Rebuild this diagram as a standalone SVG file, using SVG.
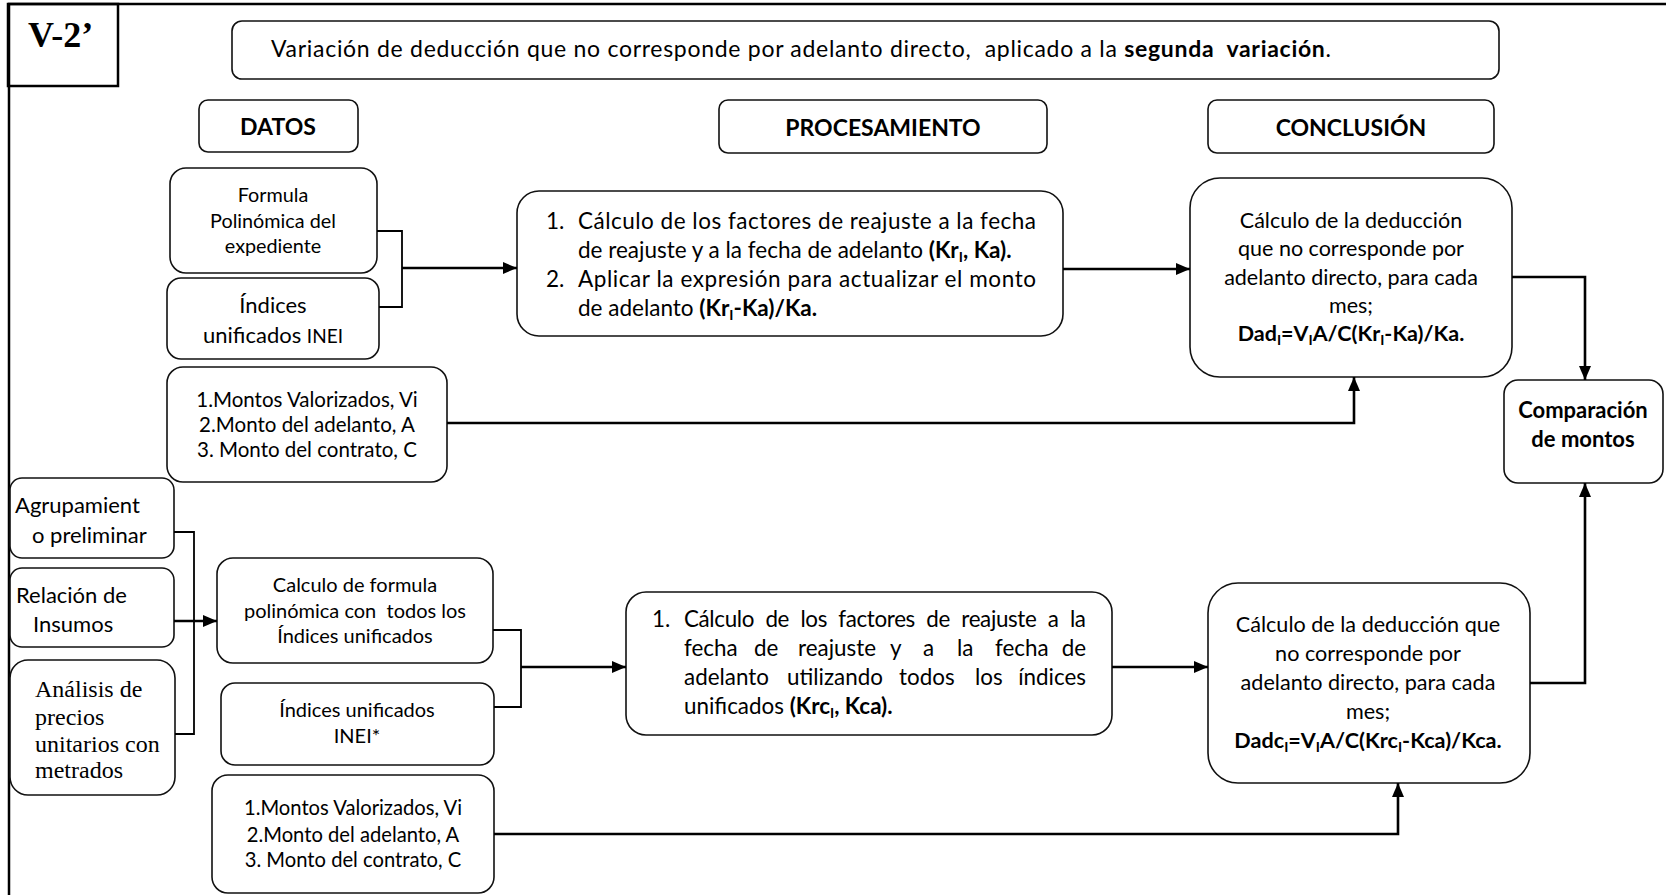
<svg xmlns="http://www.w3.org/2000/svg" width="1666" height="895" viewBox="0 0 1666 895">
<style>
.box{fill:#fff;stroke:#111;stroke-width:1.6}
.t{font-family:Lato,"Open Sans","Liberation Sans",sans-serif;fill:#000;white-space:pre}
.c{text-anchor:middle}
.e{text-anchor:end}
.b{font-weight:bold}
.s{font-family:"Liberation Serif","Times New Roman",serif;fill:#000}
.ln{fill:none;stroke:#000;stroke-width:1.8}
.ar{fill:none;stroke:#000;stroke-width:2.6;marker-end:url(#ah)}
</style>
<defs>
<marker id="ah" viewBox="0 0 14 12" refX="14" refY="6" markerWidth="14" markerHeight="12" markerUnits="userSpaceOnUse" orient="auto">
<path d="M0,0 L14,6 L0,12 z" fill="#000"/>
</marker>
</defs>
<rect width="1666" height="895" fill="#fff"/>
<g id="frame">
<path d="M8,4 H1666 M9,4 V895" fill="none" stroke="#000" stroke-width="2.5"/>
<rect x="8" y="4" width="110" height="82" fill="none" stroke="#000" stroke-width="2.5"/>
<text x="28" y="47" class="s b" font-size="36">V-2’</text>
</g>
<g id="title">
<rect class="box" x="232" y="21" width="1267" height="58" rx="10"/>
<text x="271" y="57" class="t" font-size="23" textLength="1060">Variación de deducción que no corresponde por adelanto directo,  aplicado a la <tspan class="b">segunda  variación</tspan>.</text>
</g>
<g id="datos">
<rect class="box" x="199" y="100" width="159" height="52" rx="9"/>
<text x="278" y="135" class="t c b" font-size="23">DATOS</text>
</g>
<g id="procesamiento">
<rect class="box" x="719" y="100" width="328" height="53" rx="9"/>
<text x="883" y="136" class="t c b" font-size="23">PROCESAMIENTO</text>
</g>
<g id="conclusion">
<rect class="box" x="1208" y="100" width="286" height="53" rx="9"/>
<text x="1351" y="136" class="t c b" font-size="23">CONCLUSIÓN</text>
</g>
<g id="formula">
<rect class="box" x="170" y="168" width="207" height="105" rx="16"/>
<text class="t c" font-size="19.8"><tspan x="273" y="202">Formula</tspan><tspan x="273" y="228">Polinómica del</tspan><tspan x="273" y="253">expediente</tspan></text>
</g>
<g id="indices1">
<rect class="box" x="167" y="278" width="212" height="81" rx="14"/>
<text class="t c" font-size="22"><tspan x="273" y="313">Índices</tspan><tspan x="273" y="343">unificados <tspan font-size="19">INEI</tspan></tspan></text>
</g>
<g id="montos1">
<rect class="box" x="167" y="367" width="280" height="115" rx="16"/>
<text class="t c" font-size="20.5"><tspan x="307" y="407">1.Montos Valorizados, Vi</tspan><tspan x="307" y="432">2.Monto del adelanto, A</tspan><tspan x="307" y="457">3. Monto del contrato, C</tspan></text>
</g>
<g id="proceso1">
<rect class="box" x="517" y="191" width="546" height="145" rx="22"/>
<text class="t" font-size="22.5"><tspan x="546" y="229">1.</tspan><tspan x="578" y="229" textLength="458">Cálculo de los factores de reajuste a la fecha</tspan></text>
<text class="t" font-size="22.5" x="578" y="258">de reajuste y a la fecha de adelanto <tspan class="b">(Kr<tspan dy="4" font-size="14">I</tspan><tspan dy="-4">, Ka).</tspan></tspan></text>
<text class="t" font-size="22.5"><tspan x="546" y="287">2.</tspan><tspan x="578" y="287" textLength="458">Aplicar la expresión para actualizar el monto</tspan></text>
<text class="t" font-size="22.5" x="578" y="316">de adelanto <tspan class="b">(Kr<tspan dy="4" font-size="14">I</tspan><tspan dy="-4">-Ka)/Ka.</tspan></tspan></text>
</g>
<g id="conclusion1">
<rect class="box" x="1190" y="178" width="322" height="199" rx="30"/>
<text class="t c" font-size="21.5"><tspan x="1351" y="228">Cálculo de la deducción</tspan><tspan x="1351" y="256">que no corresponde por</tspan><tspan x="1351" y="285">adelanto directo, para cada</tspan><tspan x="1351" y="313">mes;</tspan></text>
<text class="t c b" font-size="21.5" x="1351" y="341">Dad<tspan dy="4" font-size="14">I</tspan><tspan dy="-4">=V</tspan><tspan dy="4" font-size="14">I</tspan><tspan dy="-4">A/C(Kr</tspan><tspan dy="4" font-size="14">I</tspan><tspan dy="-4">-Ka)/Ka.</tspan></text>
</g>
<g id="comparacion">
<rect class="box" x="1504" y="380" width="159" height="103" rx="14"/>
<text class="t c b" font-size="22"><tspan x="1583" y="418">Comparación</tspan><tspan x="1583" y="447">de montos</tspan></text>
</g>
<g id="agrupamiento">
<rect class="box" x="10" y="478" width="164" height="80" rx="12"/>
<text class="t" font-size="22"><tspan x="15" y="513">Agrupamient</tspan><tspan x="32" y="543">o preliminar</tspan></text>
</g>
<g id="relacion">
<rect class="box" x="10" y="568" width="164" height="79" rx="12"/>
<text class="t" font-size="22"><tspan x="16" y="603">Relación de</tspan><tspan x="33" y="632">Insumos</tspan></text>
</g>
<g id="analisis">
<rect class="box" x="10" y="660" width="165" height="135" rx="18"/>
<text class="s" font-size="24"><tspan x="35" y="697">Análisis de</tspan><tspan x="35" y="725">precios</tspan><tspan x="35" y="752">unitarios con</tspan><tspan x="35" y="778">metrados</tspan></text>
</g>
<g id="calculo">
<rect class="box" x="217" y="558" width="276" height="105" rx="16"/>
<text class="t c" font-size="20"><tspan x="355" y="592">Calculo de formula</tspan><tspan x="355" y="618">polinómica con  todos los</tspan><tspan x="355" y="643">Índices unificados</tspan></text>
</g>
<g id="indices2">
<rect class="box" x="221" y="683" width="273" height="82" rx="14"/>
<text class="t c" font-size="20"><tspan x="357" y="717">Índices unificados</tspan><tspan x="357" y="743">INEI*</tspan></text>
</g>
<g id="montos2">
<rect class="box" x="212" y="775" width="282" height="118" rx="16"/>
<text class="t c" font-size="20.2"><tspan x="353" y="815">1.Montos Valorizados, Vi</tspan><tspan x="353" y="842">2.Monto del adelanto, A</tspan><tspan x="353" y="867">3. Monto del contrato, C</tspan></text>
</g>
<g id="proceso2">
<rect class="box" x="626" y="592" width="486" height="143" rx="20"/>
<text class="t" font-size="22.4" y="627"><tspan x="652">1.</tspan></text>
<text class="t" font-size="22.4" x="684" y="627" textLength="402" style="word-spacing:6px">Cálculo de los factores de reajuste a la</text>
<text class="t" font-size="22.4" y="656"><tspan x="684">fecha</tspan><tspan x="754">de</tspan><tspan x="798">reajuste</tspan><tspan x="890">y</tspan><tspan x="923">a</tspan><tspan x="957">la</tspan><tspan x="995">fecha</tspan></text>
<text class="t e" font-size="22.4" x="1086" y="656">de</text>
<text class="t" font-size="22.4" y="685"><tspan x="684">adelanto</tspan><tspan x="787">utilizando</tspan><tspan x="899">todos</tspan><tspan x="975">los</tspan></text>
<text class="t e" font-size="22.4" x="1086" y="685">índices</text>
<text class="t" font-size="22.4" x="684" y="714">unificados <tspan class="b">(Krc<tspan dy="4" font-size="14">I</tspan><tspan dy="-4">, Kca).</tspan></tspan></text>
</g>
<g id="conclusion2">
<rect class="box" x="1208" y="583" width="322" height="200" rx="30"/>
<text class="t c" font-size="21.6"><tspan x="1368" y="632">Cálculo de la deducción que</tspan><tspan x="1368" y="661">no corresponde por</tspan><tspan x="1368" y="690">adelanto directo, para cada</tspan><tspan x="1368" y="719">mes;</tspan></text>
<text class="t c b" font-size="21.6" x="1368" y="748">Dadc<tspan dy="4" font-size="14">I</tspan><tspan dy="-4">=V</tspan><tspan dy="4" font-size="14">I</tspan><tspan dy="-4">A/C(Krc</tspan><tspan dy="4" font-size="14">I</tspan><tspan dy="-4">-Kca)/Kca.</tspan></text>
</g>
<g id="connectors">
<path class="ln" d="M377,231 H402 V307 H379"/>
<path class="ar" d="M402,268 H517"/>
<path class="ar" d="M447,423 H1354 V377"/>
<path class="ar" d="M1063,269 H1190"/>
<path class="ar" d="M1512,277 H1585 V380"/>
<path class="ln" d="M174,532 H194 V734 H175"/>
<path class="ar" d="M174,621 H217"/>
<path class="ln" d="M493,630 H521 V707 H494"/>
<path class="ar" d="M521,667 H626"/>
<path class="ar" d="M1112,667 H1208"/>
<path class="ar" d="M1530,683 H1585 V483"/>
<path class="ar" d="M494,834 H1398 V783"/>
</g>
</svg>
